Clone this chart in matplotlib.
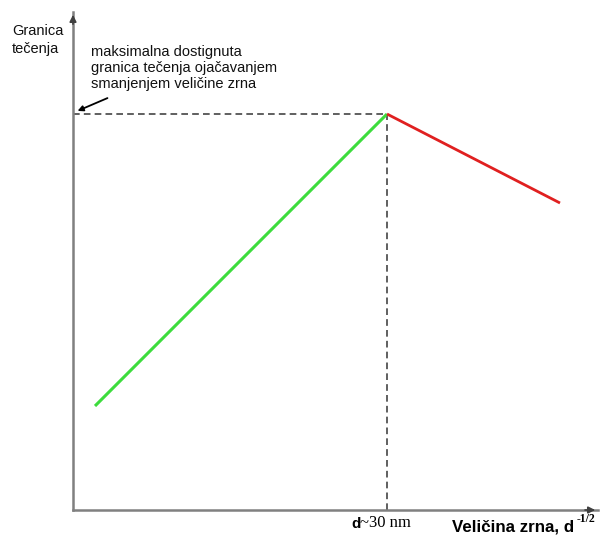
import matplotlib
matplotlib.use("Agg")
import matplotlib.pyplot as plt

plt.rcParams['font.family'] = ['Liberation Sans', 'DejaVu Sans']

# data (arbitrary units: grain size d^-1/2 vs yield strength)
green_x = [22, 314]
green_y = [104, 396]
red_x = [314, 487]
red_y = [396, 307]
peak_x = 314
peak_y = 396

fig = plt.figure(figsize=(6, 5.4), dpi=100)
ax = fig.add_axes([73/600, 30/540, 525/600, 498/540])
ax.set_xlim(0, 525)
ax.set_ylim(0, 498)
for s in ['top', 'right']:
    ax.spines[s].set_visible(False)
for s in ['left', 'bottom']:
    ax.spines[s].set_color('#808080')
    ax.spines[s].set_linewidth(1.8)
ax.set_xticks([])
ax.set_yticks([])
ax.patch.set_alpha(0)

# axis arrows
ax.annotate('', xy=(1, 0), xycoords='axes fraction', xytext=(0.97, 0), textcoords='axes fraction',
            arrowprops=dict(arrowstyle='-|>', color='#404040', lw=1.2, mutation_scale=10), annotation_clip=False)
ax.annotate('', xy=(0, 1), xycoords='axes fraction', xytext=(0, 0.97), textcoords='axes fraction',
            arrowprops=dict(arrowstyle='-|>', color='#404040', lw=1.2, mutation_scale=10), annotation_clip=False)

# dashed guides
ax.plot([0, peak_x], [peak_y, peak_y], ls=(0, (4, 2.5)), color='#444444', lw=1.2)
ax.plot([peak_x, peak_x], [0, peak_y], ls=(0, (4, 2.5)), color='#444444', lw=1.2)

ax.plot(green_x, green_y, color='#3ddc3d', lw=2.2, solid_capstyle='butt')
ax.plot(red_x, red_y, color='#e02020', lw=2.0, solid_capstyle='butt')

# annotation arrow
ax.annotate('', xy=(2, 398), xytext=(37, 413),
            arrowprops=dict(arrowstyle='-|>', color='black', lw=1.3, mutation_scale=8), annotation_clip=False)

fig.text(12/600, 1 - 40/540, 'Granica\ntečenja', fontsize=10.5, ha='left', va='center', linespacing=1.3,
         color='#111111')
fig.text(91/600, 1 - 68/540, 'maksimalna dostignuta\ngranica tečenja ojačavanjem\nsmanjenjem veličine zrna',
         fontsize=10.5, ha='left', va='center', linespacing=1.22, color='#111111')

fig.text(351/600, 1 - 524/540, 'd', fontsize=11, fontweight='bold', ha='left', va='center')
fig.text(360/600, 1 - 523/540, '~30 nm', fontsize=12, family='Liberation Serif', ha='left', va='center')
fig.text(452/600, 1 - 527/540, 'Veličina zrna, d', fontsize=12.2, fontweight='bold', ha='left', va='center')
fig.text(577/600, 1 - 519/540, '-1/2', fontsize=8.5, fontweight='bold', family='Liberation Serif', ha='left', va='center')

fig.savefig('out.png', dpi=100, facecolor='white')
